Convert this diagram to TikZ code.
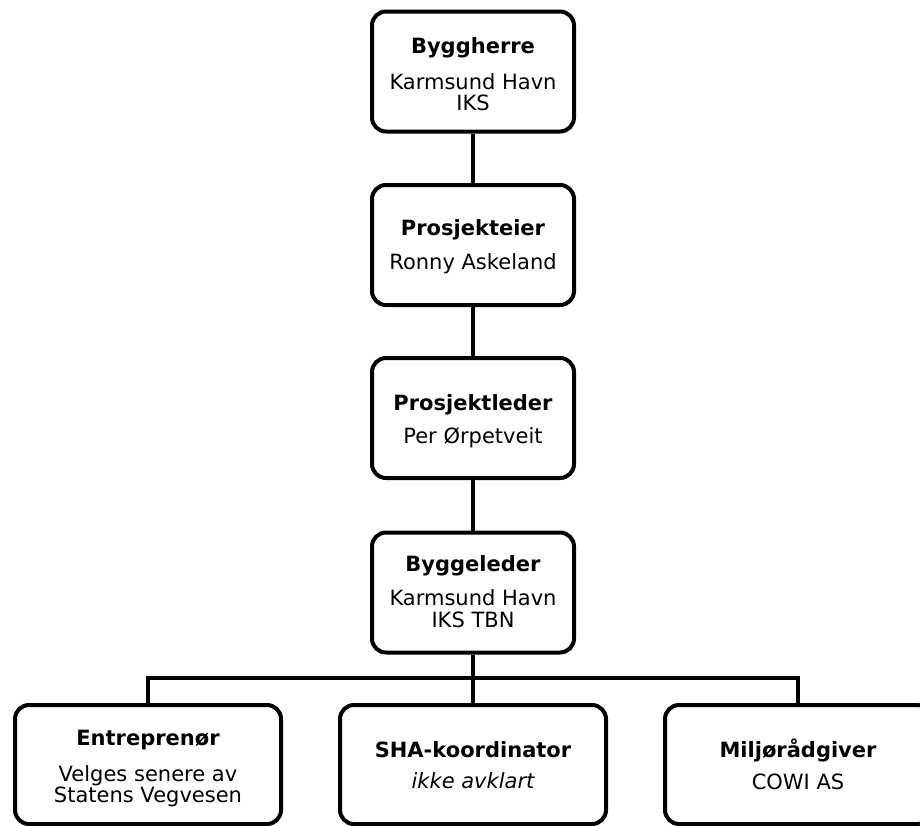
\documentclass[tikz,border=0pt]{standalone}
\usepackage{fontspec}
\setmainfont{DejaVu Sans}
\begin{document}
\begin{tikzpicture}[x=1pt,y=-1pt,
  box/.style={draw=black, line width=4pt, rounded corners=14pt, fill=white, inner sep=0pt},
  vbox/.style={box, minimum width=202pt, minimum height=120pt},
  hbox/.style={box, minimum width=266pt, minimum height=119pt},
  conn/.style={draw=black, line width=4pt},
  ttl/.style={anchor=base, inner sep=0pt, font=\fontsize{21}{25}\selectfont\bfseries},
  txt/.style={anchor=base, inner sep=0pt, font=\fontsize{21}{25}\selectfont},
  itxt/.style={anchor=base, inner sep=0pt, font=\fontsize{21}{25}\selectfont\itshape}]
\useasboundingbox (0,0) rectangle (920,825);
\fill[white] (0,0) rectangle (920,825);

% boxes
\node[vbox] (b1) at (473,71.5) {};
\node[vbox] (b2) at (473,245) {};
\node[vbox] (b3) at (473,418) {};
\node[vbox] (b4) at (473,592.5) {};
\node[hbox] (e) at (148,764.5) {};
\node[hbox] (s) at (473,764.5) {};
\node[hbox] (m) at (798,764.5) {};

% connectors
\coordinate (bus) at (473,678);
\draw[conn] (b1.south) -- (b2.north);
\draw[conn] (b2.south) -- (b3.north);
\draw[conn] (b3.south) -- (b4.north);
\draw[conn] (b4.south) -- (bus) -- (s.north);
\draw[conn] (e.north) |- (bus) -| (m.north);

% texts
\node[ttl] (t1) at (473,53) {Byggherre};
\node[txt] (t1a) at (473,89) {Karmsund Havn};
\node[txt] (t1b) at (473,110) {IKS};

\node[ttl] (t2) at (473,235) {Prosjekteier};
\node[txt] (t2a) at (473,269) {Ronny Askeland};

\node[ttl] (t3) at (473,410) {Prosjektleder};
\node[txt] (t3a) at (473,443) {Per Ørpetveit};

\node[ttl] (t4) at (473,571) {Byggeleder};
\node[txt] (t4a) at (473,605) {Karmsund Havn};
\node[txt] (t4b) at (473,627) {IKS TBN};

\node[ttl] (t5) at (148,745) {Entreprenør};
\node[txt] (t5a) at (148,781) {Velges senere av};
\node[txt] (t5b) at (148,802) {Statens Vegvesen};

\node[ttl] (t6) at (473,757) {SHA-koordinator};
\node[itxt] (t6a) at (473,788) {ikke avklart};

\node[ttl] (t7) at (798,757) {Miljørådgiver};
\node[txt] (t7a) at (798,789) {COWI AS};
\end{tikzpicture}
\end{document}
